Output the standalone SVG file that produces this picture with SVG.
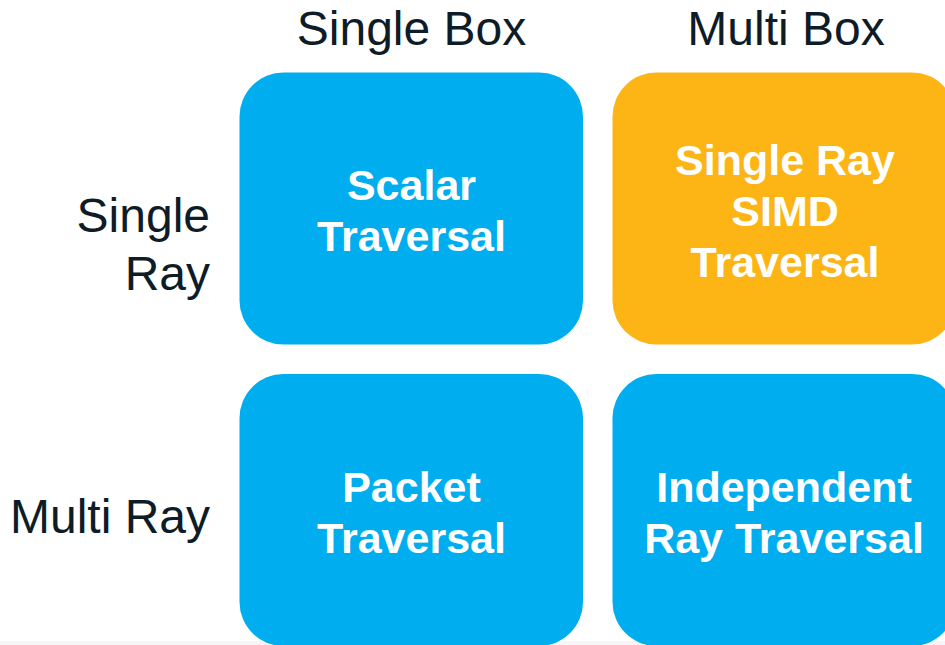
<svg xmlns="http://www.w3.org/2000/svg" width="945" height="645" viewBox="0 0 945 645">
<style>
.blue{fill:#00AEEF}
.orange{fill:#FDB515}
.hdr{font-family:"Liberation Sans",Arial,sans-serif;font-size:48px;fill:#0E1C27}
.lbl{font-family:"Liberation Sans",Arial,sans-serif;font-size:43px;font-weight:bold;fill:#FFFFFF;text-anchor:middle}
</style>
<rect x="0" y="0" width="945" height="645" fill="#FFFFFF"/>
<rect x="0" y="641" width="945" height="4" fill="#F6F6F6"/>
<g id="headers">
<text class="hdr" x="411.5" y="45" text-anchor="middle">Single Box</text>
<text class="hdr" x="786" y="45" text-anchor="middle">Multi Box</text>
<text class="hdr" x="210" y="232" text-anchor="end">Single</text>
<text class="hdr" x="210" y="290" text-anchor="end">Ray</text>
<text class="hdr" x="210" y="533" text-anchor="end">Multi Ray</text>
</g>
<g id="scalar">
<rect class="blue" x="239.5" y="72.5" width="343.5" height="272" rx="44" ry="44"/>
<text class="lbl" x="411.5" y="200">Scalar</text>
<text class="lbl" x="411.5" y="251">Traversal</text>
</g>
<g id="simd">
<rect class="orange" x="612.5" y="72.5" width="343.5" height="272" rx="44" ry="44"/>
<text class="lbl" x="785" y="175">Single Ray</text>
<text class="lbl" x="785" y="226">SIMD</text>
<text class="lbl" x="785" y="277">Traversal</text>
</g>
<g id="packet">
<rect class="blue" x="239.5" y="374" width="343.5" height="272" rx="44" ry="44"/>
<text class="lbl" x="411.5" y="502">Packet</text>
<text class="lbl" x="411.5" y="553">Traversal</text>
</g>
<g id="independent">
<rect class="blue" x="612.5" y="374" width="343.5" height="272" rx="44" ry="44"/>
<text class="lbl" x="784" y="502">Independent</text>
<text class="lbl" x="784" y="553">Ray Traversal</text>
</g>
<g id="connectors"/>
</svg>
